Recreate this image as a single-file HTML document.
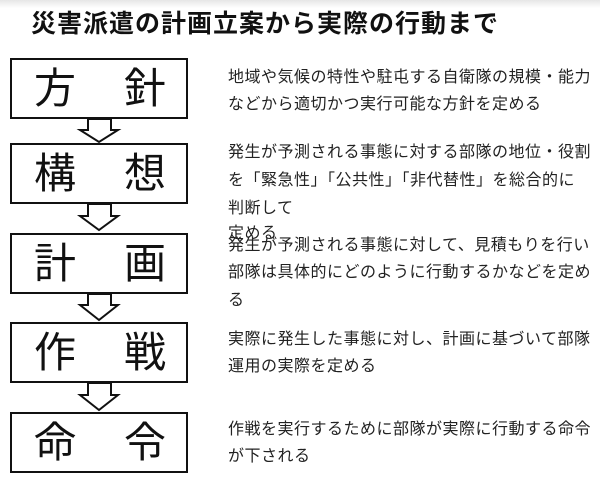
<!DOCTYPE html>
<html><head><meta charset="utf-8"><style>
body{margin:0;width:600px;height:482px;background:#fff;position:relative;overflow:hidden;font-family:"Liberation Sans","Noto Sans CJK JP",sans-serif;}
.t{position:absolute;left:31px;top:4px;font-size:25px;letter-spacing:1px;font-weight:bold;color:#111;white-space:nowrap;}
.box{position:absolute;left:10px;width:174px;height:57px;border:2px solid #111;background:#fff;}
.c{position:absolute;top:4px;font-size:42px;line-height:50px;color:#111;}
.l{position:absolute;left:228px;font-size:16px;letter-spacing:0.5px;color:#222;white-space:nowrap;line-height:18px;font-feature-settings:"fwid";}
svg{position:absolute;left:0;top:0;}
</style></head><body>
<div style="position:absolute;left:0;top:0;width:600px;height:8px;background:linear-gradient(#e6e6e6,#fff)"></div>
<div class="t">災害派遣の計画立案から実際の行動まで</div>
<svg width="600" height="482">
<g fill="#fff" stroke="#111" stroke-width="2">
<path d="M88 119 V130 H80 L99 142 L118 130 H111 V119 Z"/>
<path d="M88 204 V216 H80 L99 230 L118 216 H111 V204 Z"/>
<path d="M88 294 V305 H80 L99 320 L118 305 H111 V294 Z"/>
<path d="M88 383 V395 H80 L99 410 L118 395 H111 V383 Z"/>
</g></svg>
<div class="box" style="top:58px"><span class="c" style="left:22px">方</span><span class="c" style="left:112px">針</span></div>
<div class="box" style="top:143px"><span class="c" style="left:22px">構</span><span class="c" style="left:112px">想</span></div>
<div class="box" style="top:233px"><span class="c" style="left:22px">計</span><span class="c" style="left:112px">画</span></div>
<div class="box" style="top:322px"><span class="c" style="left:22px">作</span><span class="c" style="left:112px">戦</span></div>
<div class="box" style="top:412px"><span class="c" style="left:22px">命</span><span class="c" style="left:112px">令</span></div>
<div class="l" style="top:69px">地域や気候の特性や駐屯する自衛隊の規模・能力</div>
<div class="l" style="top:96px">などから適切かつ実行可能な方針を定める</div>
<div class="l" style="top:144px">発生が予測される事態に対する部隊の地位・役割</div>
<div class="l" style="top:172px">を「緊急性」「公共性」「非代替性」を総合的に</div>
<div class="l" style="top:200px">判断して</div>
<div class="l" style="top:225px">定める</div>
<div class="l" style="top:237px">発生が予測される事態に対して、見積もりを行い</div>
<div class="l" style="top:264px">部隊は具体的にどのように行動するかなどを定め</div>
<div class="l" style="top:292px">る</div>
<div class="l" style="top:331px">実際に発生した事態に対し、計画に基づいて部隊</div>
<div class="l" style="top:358px">運用の実際を定める</div>
<div class="l" style="top:421px">作戦を実行するために部隊が実際に行動する命令</div>
<div class="l" style="top:448px">が下される</div>
</body></html>
